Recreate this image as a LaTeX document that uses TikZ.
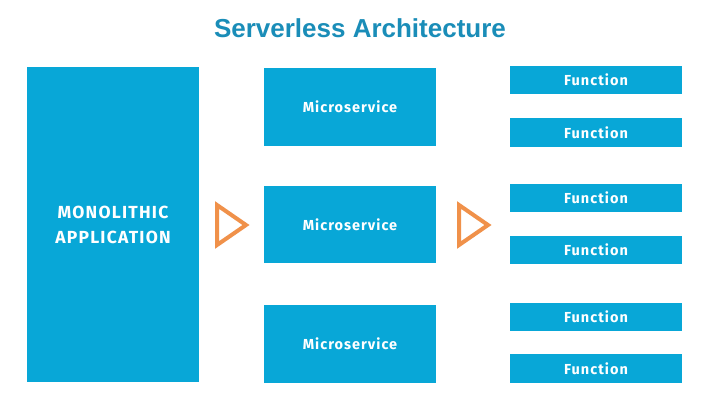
\documentclass[tikz,border=0pt]{standalone}
\usepackage{fontspec}
\setmainfont{Liberation Sans}
\newfontfamily\boxfont[LetterSpace=7]{Fira Sans}
\definecolor{boxblue}{HTML}{08A7D7}
\definecolor{titleblue}{HTML}{1A8DB8}
\definecolor{arroworange}{HTML}{F0914A}
\begin{document}
\begin{tikzpicture}[x=1pt,y=-1pt,
  blk/.style={fill=boxblue,draw=none,inner sep=0pt,text=white,font=\boxfont\bfseries\fontsize{14.5}{17}\selectfont,align=center},
  tri/.style={draw=arroworange,line width=4pt,line join=miter,fill=none}]
\useasboundingbox (0,0) rectangle (720,405);
\fill[white] (0,0) rectangle (720,405);
\node[font=\bfseries\fontsize{26}{30}\selectfont,text=titleblue] (title) at (360,28) {Serverless Architecture};
% monolith
\node[blk,minimum width=172pt,minimum height=315pt] (mono) at (113,224.5) {};
\node[font=\boxfont\bfseries\fontsize{17.5}{25}\selectfont,text=white,align=center] (monotxt) at (113,224.5) {MONOLITHIC\\APPLICATION};
% microservices
\node[blk,minimum width=172pt,minimum height=78pt] (ms1) at (350,107) {Microservice};
\node[blk,minimum width=172pt,minimum height=77pt] (ms2) at (350,224.5) {Microservice};
\node[blk,minimum width=172pt,minimum height=78pt] (ms3) at (350,344) {Microservice};
% functions
\node[blk,minimum width=172pt,minimum height=28.5pt] (f1) at (596,80) {Function};
\node[blk,minimum width=172pt,minimum height=28.5pt] (f2) at (596,132.5) {Function};
\node[blk,minimum width=172pt,minimum height=28.5pt] (f3) at (596,198) {Function};
\node[blk,minimum width=172pt,minimum height=28.5pt] (f4) at (596,250) {Function};
\node[blk,minimum width=172pt,minimum height=28.5pt] (f5) at (596,317) {Function};
\node[blk,minimum width=172pt,minimum height=28.5pt] (f6) at (596,368.5) {Function};
% arrows (triangles)
\coordinate (t1) at (217,225);
\coordinate (t2) at (459,225);
\draw[tri] (t1) ++(0,-20) -- ++(29,20) -- ++(-29,20) -- cycle;
\draw[tri] (t2) ++(0,-20) -- ++(29,20) -- ++(-29,20) -- cycle;
\end{tikzpicture}
\end{document}
